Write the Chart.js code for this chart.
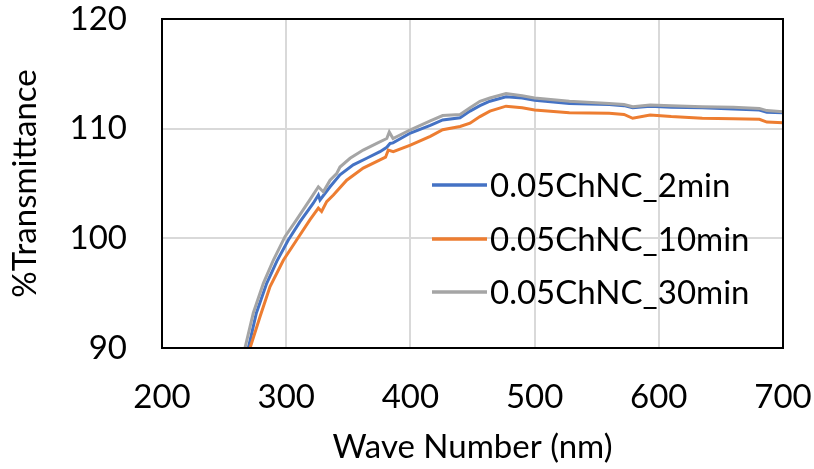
<!DOCTYPE html>
<html>
<head>
<meta charset="utf-8">
<script src="https://cdn.jsdelivr.net/npm/chart.js@4.4.1/dist/chart.umd.min.js"></script>
<style>
  html, body { margin: 0; padding: 0; background: #fff; }
  #wrap { width: 814px; height: 469px; }
</style>
</head>
<body>
<div id="wrap"><canvas id="chart" width="814" height="469"></canvas></div>
<script>
// values
const seriesLabels = ['0.05ChNC_2min', '0.05ChNC_10min', '0.05ChNC_30min'];
const seriesColors = ['#4472C4', '#ED7D31', '#A5A5A5'];

const wl2min = [269.5, 276, 284.3, 292.4, 301.7, 311, 321.8, 325.9, 327.2, 335.3, 343.3, 354, 364.8, 375.5, 381, 383.6, 386, 400, 416, 426, 440, 448, 456, 464, 477, 490, 500, 528, 560, 572, 579, 593, 610, 635, 660, 681, 687, 700];
const val2min = [90, 93.2, 95.9, 97.9, 99.85, 101.5, 103.2, 103.95, 103.5, 104.7, 105.8, 106.7, 107.3, 107.9, 108.3, 108.65, 108.7, 109.6, 110.3, 110.8, 111.0, 111.6, 112.1, 112.5, 112.9, 112.8, 112.6, 112.3, 112.2, 112.1, 111.9, 112.05, 111.95, 111.9, 111.8, 111.7, 111.5, 111.45];

const wl10min = [270.9, 278.9, 287, 297.7, 308.4, 319.2, 325.9, 328.5, 332.6, 338, 348.7, 362, 375.5, 380, 382.2, 386.2, 400, 416, 426, 440, 448, 456, 464, 477, 490, 500, 528, 560, 572, 579, 593, 610, 635, 660, 681, 687, 700];
const val10min = [90, 92.85, 95.6, 98.0, 99.85, 101.7, 102.75, 102.45, 103.35, 103.95, 105.3, 106.4, 107.15, 107.4, 108.05, 107.9, 108.5, 109.3, 109.9, 110.2, 110.5, 111.1, 111.6, 112.05, 111.9, 111.7, 111.45, 111.4, 111.3, 110.95, 111.25, 111.1, 110.95, 110.9, 110.85, 110.6, 110.55];

const wl30min = [266.8, 273.5, 281.6, 289.6, 299, 308.4, 319, 325.9, 329.9, 335.3, 340.6, 343.3, 351.4, 362, 372.9, 381, 383, 386, 400, 416, 426, 440, 448, 456, 464, 477, 490, 500, 528, 560, 572, 579, 593, 610, 635, 660, 681, 687, 700];
const val30min = [90, 93.2, 95.9, 98.0, 100.15, 101.7, 103.5, 104.7, 104.25, 105.3, 105.9, 106.5, 107.3, 108.05, 108.65, 109.1, 109.7, 109.1, 109.9, 110.7, 111.2, 111.3, 111.9, 112.5, 112.8, 113.2, 113.0, 112.8, 112.5, 112.3, 112.2, 112.0, 112.15, 112.1, 112.0, 111.95, 111.85, 111.65, 111.55];

const xTicks = [200, 300, 400, 500, 600, 700];
const yTicks = [90, 100, 110, 120];

const FONT = 'Lato, "Open Sans", sans-serif';
const FONT_SIZE = 33;

function toPoints(xs, ys) {
    return xs.map((x, i) => ({ x: x, y: ys[i] }));
}

// black frame round the plot area
const frame = {
    id: 'frame',
    afterDraw(chart) {
        const a = chart.chartArea;
        const ctx = chart.ctx;
        ctx.save();
        ctx.strokeStyle = '#000';
        ctx.lineWidth = 2;
        ctx.strokeRect(a.left, a.top, a.right - a.left, a.bottom - a.top);
        ctx.restore();
    }
};

// legend sits inside the plot, no box
const insideLegend = {
    id: 'insideLegend',
    afterDraw(chart) {
        const ctx = chart.ctx;
        const rows = [185, 239, 292];
        ctx.save();
        ctx.font = FONT_SIZE + 'px ' + FONT;
        ctx.textBaseline = 'middle';
        ctx.textAlign = 'left';
        rows.forEach((y, i) => {
            ctx.strokeStyle = seriesColors[i];
            ctx.lineWidth = 3.5;
            ctx.beginPath();
            ctx.moveTo(432, y);
            ctx.lineTo(487, y);
            ctx.stroke();
            ctx.fillStyle = '#000';
            ctx.fillText(seriesLabels[i], 490, y + 1);
        });
        ctx.restore();
    }
};

const datasets = [
    { label: seriesLabels[0], data: toPoints(wl2min, val2min), borderColor: seriesColors[0], order: 2 },
    { label: seriesLabels[1], data: toPoints(wl10min, val10min), borderColor: seriesColors[1], order: 1 },
    { label: seriesLabels[2], data: toPoints(wl30min, val30min), borderColor: seriesColors[2], order: 0 }
].map(ds => Object.assign(ds, {
    borderWidth: 3,
    pointRadius: 0,
    tension: 0,
    fill: false
}));

new Chart(document.getElementById('chart').getContext('2d'), {
    type: 'line',
    data: { datasets: datasets },
    options: {
        responsive: false,
        animation: false,
        layout: { padding: { top: 19, right: 31, left: 0, bottom: 0 } },
        plugins: {
            legend: { display: false },
            tooltip: { enabled: false }
        },
        scales: {
            x: {
                type: 'linear',
                min: 200,
                max: 700,
                afterBuildTicks: (scale) => { scale.ticks = xTicks.map(v => ({ value: v })); },
                afterFit: (scale) => {
                    scale.height = 121;
                    scale.paddingLeft = 0;
                    scale.paddingRight = 0;
                },
                grid: { color: '#D9D9D9', lineWidth: 2, drawTicks: false },
                border: { display: false },
                ticks: { color: '#000', padding: 30, font: { family: FONT, size: FONT_SIZE } },
                title: {
                    display: true,
                    text: 'Wave Number (nm)',
                    color: '#000',
                    padding: { top: 0, bottom: 2 },
                    font: { family: FONT, size: FONT_SIZE }
                }
            },
            y: {
                min: 90,
                max: 120,
                afterBuildTicks: (scale) => { scale.ticks = yTicks.map(v => ({ value: v })); },
                afterFit: (scale) => {
                    scale.width = 162;
                    scale.paddingTop = 0;
                    scale.paddingBottom = 0;
                },
                grid: { color: '#D9D9D9', lineWidth: 2, drawTicks: false },
                border: { display: false },
                ticks: { color: '#000', padding: 35, font: { family: FONT, size: FONT_SIZE } },
                title: {
                    display: true,
                    text: '%Transmittance',
                    color: '#000',
                    padding: { top: 6, bottom: 0 },
                    font: { family: FONT, size: FONT_SIZE }
                }
            }
        }
    },
    plugins: [frame, insideLegend]
});
</script>
</body>
</html>
